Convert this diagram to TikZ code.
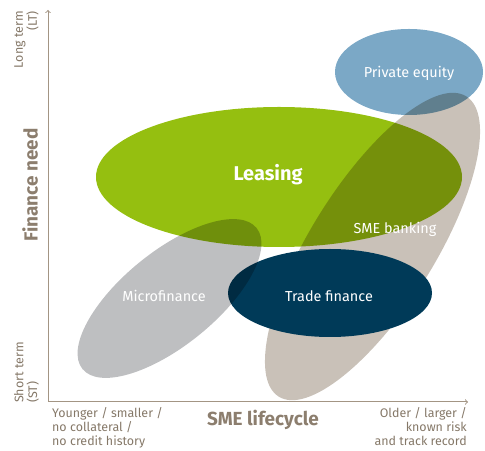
\documentclass[tikz,border=0pt]{standalone}
\usepackage{fontspec}
\setmainfont{Fira Sans}
\usetikzlibrary{positioning}
\definecolor{smeTan}{HTML}{C9C1B8}
\definecolor{peBlue}{HTML}{7BA8C6}
\definecolor{leaseGreen}{HTML}{95BF10}
\definecolor{microGray}{HTML}{BEBFC1}
\definecolor{tradeNavy}{HTML}{003A58}
\definecolor{axisBrown}{HTML}{A39584}
\definecolor{labelBrown}{HTML}{8C7E6E}
\definecolor{smallBrown}{HTML}{857868}
\tikzset{
    field/.style={text=white, font=\fontsize{14.5}{17}\selectfont},
    axisLabel/.style={text=labelBrown, font=\fontsize{19}{22}\selectfont\bfseries},
    endNote/.style={text=smallBrown, font=\fontsize{12.5}{14}\selectfont, inner sep=0pt},
    overlay field/.style={blend mode=multiply}
}
\begin{document}
\begin{tikzpicture}[x=1bp,y=1bp]
	\useasboundingbox (0,0) rectangle (485,451);
	% axes
	\coordinate (origin) at (48,49);
	\coordinate (yTop) at (48,441);
	\coordinate (xEnd) at (468,49);
	\draw[axisBrown, line width=1bp, ->] (origin) -- (yTop);
	\draw[axisBrown, line width=1bp, ->] (origin) -- (xEnd);
	% finance fields
	\fill[smeTan, rotate around={58:(372.5,204.5)}] (372.5,204.5) ellipse (177 and 62);
	\begin{scope}[overlay field]
		\fill[peBlue] (409,379) ellipse (74 and 43);
		\fill[leaseGreen] (279,274) ellipse (183 and 70);
	\end{scope}
	\fill[tradeNavy] (330,158) ellipse (102 and 44);
	\begin{scope}[overlay field]
		\fill[microGray, rotate around={39:(169.5,152.5)}] (169.5,152.5) ellipse (112 and 47);
	\end{scope}
	\node[field] (pe) at (409,378) {Private equity};
	\node[field, font=\fontsize{20}{24}\selectfont\bfseries] (leasing) at (268,276) {Leasing};
	\node[field] (smeBank) at (395,222) {SME banking};
	\node[field] (micro) at (164,155) {Microfinance};
	\node[field] (trade) at (329,155) {Trade finance};
	% axis labels
	\node[axisLabel, rotate=90] (need) at (30,266) {Finance need};
	\node[axisLabel] (cycle) at (263,31) {SME lifecycle};
	\node[endNote, rotate=90, anchor=east, align=right] (longTerm) at (26.5,440) {Long term\\(LT)};
	\node[endNote, rotate=90, anchor=west, align=left] (shortTerm) at (26.5,48) {Short term\\(ST)};
	\node[endNote, anchor=north west, align=left] (younger) at (52,44) {Younger / smaller /\\no collateral /\\no credit history};
	\node[endNote, anchor=north east, align=right] (older) at (467,44) {Older / larger /\\known risk\\and track record};
\end{tikzpicture}
\end{document}
